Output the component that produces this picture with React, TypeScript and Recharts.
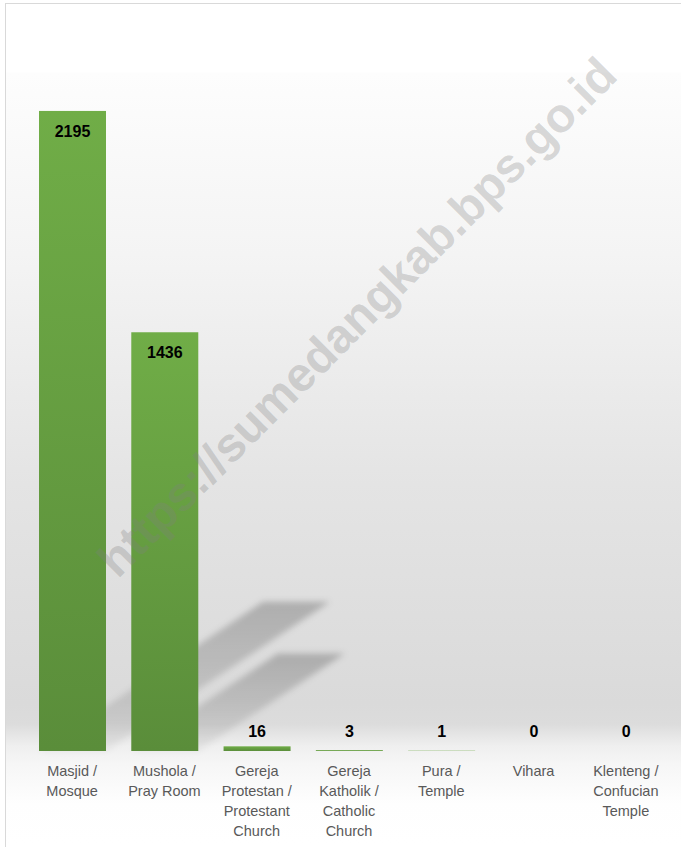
import React from 'react'
import { BarChart, Bar, XAxis, YAxis } from 'recharts'

const categories = [
  'Masjid /\nMosque',
  'Mushola /\nPray Room',
  'Gereja\nProtestan /\nProtestant\nChurch',
  'Gereja\nKatholik /\nCatholic\nChurch',
  'Pura /\nTemple',
  'Vihara',
  'Klenteng /\nConfucian\nTemple',
]
const counts = [2195, 1436, 16, 3, 1, 0, 0]

const data = categories.map((name, i) => ({ name, count: counts[i] }))

const W = 681
const H = 847

function CategoryTick(props: any) {
  const { x, y, payload } = props
  const lines = String(payload.value).split('\n')
  return (
    <text
      x={x}
      y={y + 24.5}
      textAnchor="middle"
      fill="#595959"
      fontSize={14.5}
      fontFamily="'Liberation Sans', Arial, sans-serif"
    >
      {lines.map((l, i) => (
        <tspan key={i} x={x} dy={i === 0 ? 0 : 20}>
          {l}
        </tspan>
      ))}
    </text>
  )
}

function ValueLabel(props: any) {
  const { x, y, width, height, value } = props
  const inside = height > 40
  const ty = inside ? y + 26 : Math.min(y - 8, y + height - 14)
  return (
    <text
      x={x + width / 2}
      y={ty}
      textAnchor="middle"
      fill="#000"
      fontSize={16}
      fontWeight="bold"
      fontFamily="'Liberation Sans', Arial, sans-serif"
    >
      {value}
    </text>
  )
}

// bar with its perspective shadow on the "floor"
function ShadowBar(props: any) {
  const { x, y, width, height } = props
  const bottom = y + height
  const dx = height * 0.35
  const dy = height * 0.233
  return (
    <g>
      {height > 20 && (
        <polygon
          points={`${x},${bottom} ${x + width},${bottom} ${x + width + dx},${bottom - dy} ${x + dx},${bottom - dy}`}
          fill="url(#shadowFade)"
          filter="url(#shadowBlur)"
        />
      )}
      <rect x={x} y={y} width={width} height={Math.max(height, 0)} fill="url(#barGreen)" />
    </g>
  )
}

export default function App() {
  return (
    <div
      style={{
        position: 'fixed',
        left: 0,
        top: 0,
        width: W,
        height: H,
        overflow: 'hidden',
        background: '#fff',
      }}
    >
      <div
        style={{
          position: 'absolute',
          left: 5,
          top: 3,
          width: 720,
          height: 900,
          border: '1px solid #d9d9d9',
          background:
            'linear-gradient(to bottom, #ffffff 0px, #ffffff 68px, #fdfdfd 69px, #f4f4f4 250px, #e4e4e4 480px, #dadada 700px, #dcdcdc 720px, #efefef 742px, #f6f6f6 760px, #fefefe 800px, #ffffff 840px)',
        }}
      />
      <div style={{ position: 'absolute', left: 0, top: 0 }}>
        <BarChart
          width={W}
          height={H}
          data={data}
          margin={{ top: 22, right: 9, left: 26, bottom: 0 }}
        >
          <defs>
            <linearGradient id="barGreen" x1="0" y1="0" x2="0" y2="1">
              <stop offset="0%" stopColor="#70AD47" />
              <stop offset="100%" stopColor="#5A8D3A" />
            </linearGradient>
            <linearGradient id="shadowFade" x1="0" y1="1" x2="0" y2="0">
              <stop offset="0%" stopColor="#000" stopOpacity={0.05} />
              <stop offset="100%" stopColor="#000" stopOpacity={0.22} />
            </linearGradient>
            <filter id="shadowBlur" x="-20%" y="-20%" width="140%" height="140%">
              <feGaussianBlur stdDeviation="3" />
            </filter>
          </defs>
          <XAxis
            dataKey="name"
            axisLine={false}
            tickLine={false}
            tickSize={0}
            tickMargin={0}
            height={96}
            interval={0}
            tick={<CategoryTick />}
          />
          <YAxis hide domain={[0, 2500]} />
          <Bar
            dataKey="count"
            barSize={67}
            shape={<ShadowBar />}
            label={<ValueLabel />}
            isAnimationActive={false}
          />
        </BarChart>
      </div>
      <svg
        width={W}
        height={H}
        style={{ position: 'absolute', left: 0, top: 0, pointerEvents: 'none' }}
      >
        <text
          x={357}
          y={317}
          transform="rotate(-45 357 317)"
          textAnchor="middle"
          dominantBaseline="central"
          fontSize={48}
          fontWeight="bold"
          fontFamily="'Liberation Sans', Arial, sans-serif"
          fill="rgba(128,128,128,0.3)"
        >
          https://sumedangkab.bps.go.id
        </text>
      </svg>
    </div>
  )
}
